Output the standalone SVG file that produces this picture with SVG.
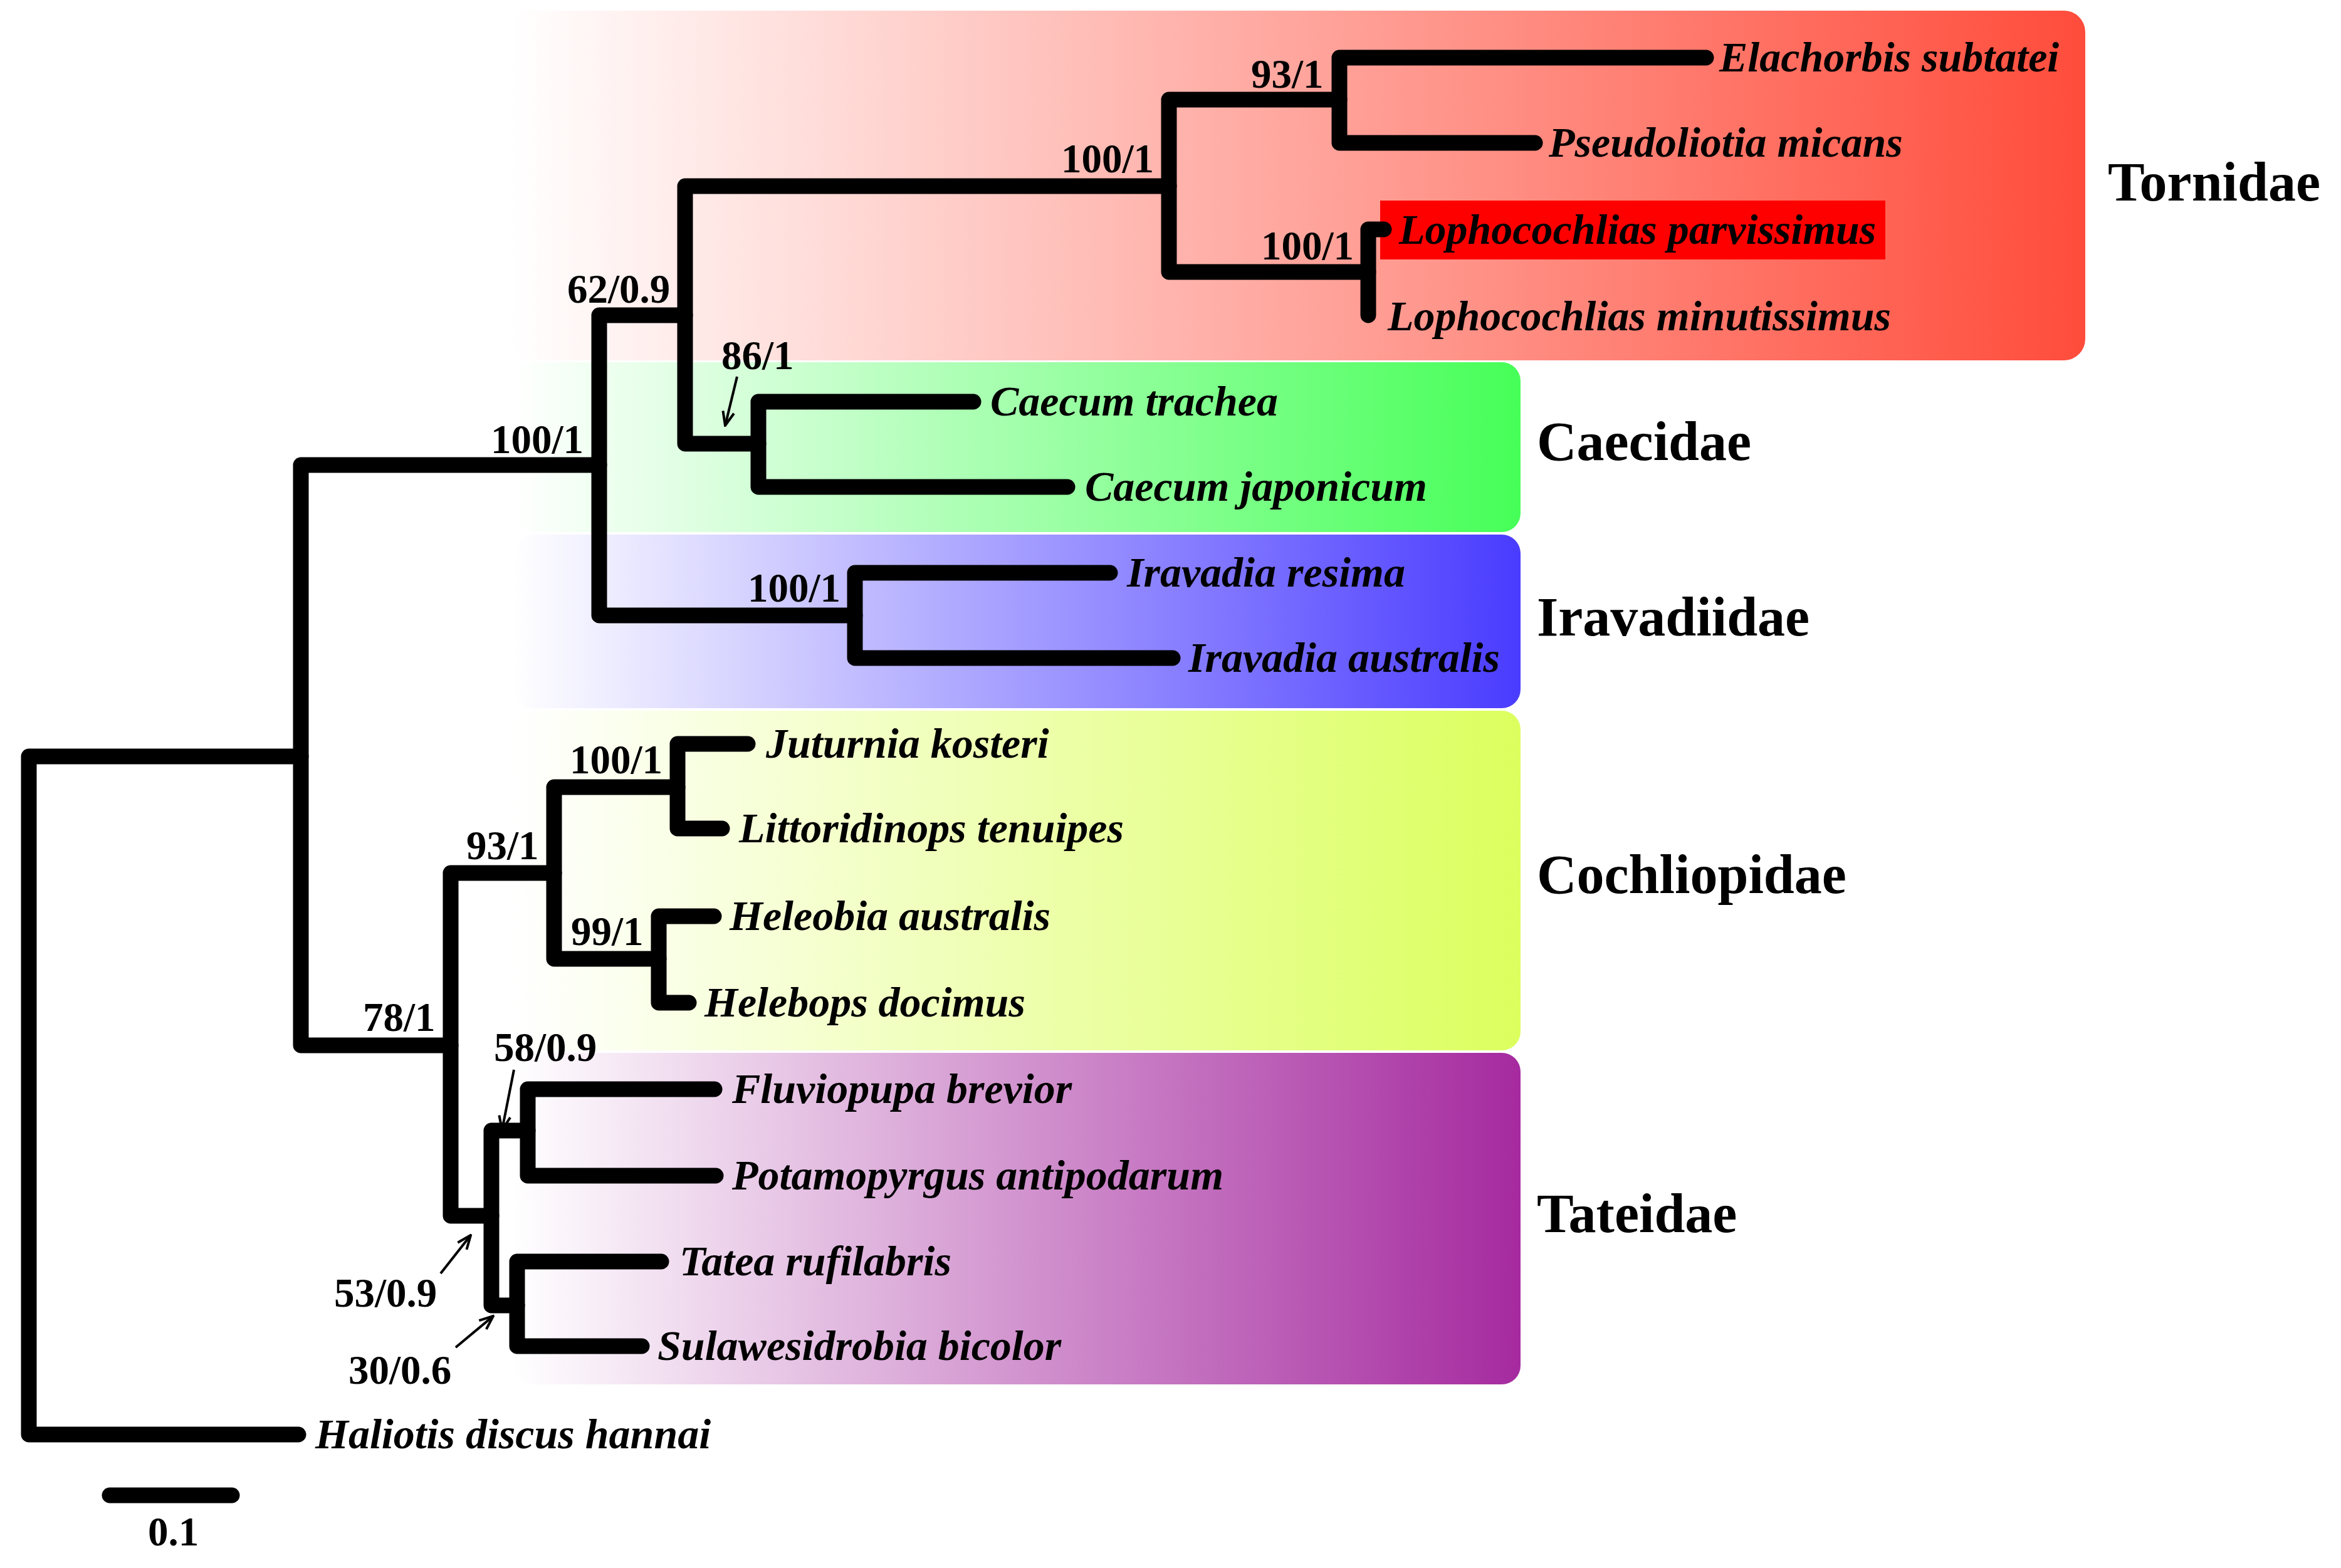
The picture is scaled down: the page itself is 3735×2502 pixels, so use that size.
<svg xmlns="http://www.w3.org/2000/svg" width="3735" height="2502" viewBox="0 0 3735 2502">
<defs>
<linearGradient id="gTor" gradientUnits="userSpaceOnUse" x1="815" y1="0" x2="3327" y2="0"><stop offset="0" stop-color="#FFFFFF"/><stop offset="1" stop-color="#FF4C3B"/></linearGradient>
<linearGradient id="gCae" gradientUnits="userSpaceOnUse" x1="820" y1="0" x2="2426" y2="0"><stop offset="0" stop-color="#FFFFFF"/><stop offset="1" stop-color="#46FF58"/></linearGradient>
<linearGradient id="gIra" gradientUnits="userSpaceOnUse" x1="820" y1="0" x2="2426" y2="0"><stop offset="0" stop-color="#FFFFFF"/><stop offset="1" stop-color="#4A3CFF"/></linearGradient>
<linearGradient id="gCoc" gradientUnits="userSpaceOnUse" x1="820" y1="0" x2="2426" y2="0"><stop offset="0" stop-color="#FFFFFF"/><stop offset="1" stop-color="#DCFF5E"/></linearGradient>
<linearGradient id="gTat" gradientUnits="userSpaceOnUse" x1="820" y1="0" x2="2426" y2="0"><stop offset="0" stop-color="#FFFFFF"/><stop offset="1" stop-color="#A52A9F"/></linearGradient>
<marker id="ah" viewBox="0 0 26 22" refX="24" refY="11" markerWidth="26" markerHeight="22" markerUnits="userSpaceOnUse" orient="auto"><path d="M2,2 L24,11 L2,20" fill="none" stroke="#000" stroke-width="4"/></marker>
</defs>
<style>
.br{fill:none;stroke:#000;stroke-width:25;stroke-linecap:round;stroke-linejoin:round}
.tx{font-family:"Liberation Serif","Times New Roman",serif;font-weight:bold;font-style:italic;font-size:68px;fill:#000}
.sp{font-family:"Liberation Serif","Times New Roman",serif;font-weight:bold;font-size:65px;fill:#000}
.fam{font-family:"Liberation Serif","Times New Roman",serif;font-weight:bold;font-size:88px;fill:#000}
.ar{fill:none;stroke:#000;stroke-width:4;marker-end:url(#ah)}
</style>
<rect width="3735" height="2502" fill="#FFFFFF"/>
<g id="clades">
<g id="Tornidae"><rect x="815" y="17" width="2512" height="558" rx="34" fill="url(#gTor)"/><text class="fam" x="3363" y="320">Tornidae</text></g>
<g id="Caecidae"><rect x="820" y="578" width="1606" height="271" rx="30" fill="url(#gCae)"/><text class="fam" x="2452" y="734">Caecidae</text></g>
<g id="Iravadiidae"><rect x="820" y="853" width="1606" height="277" rx="30" fill="url(#gIra)"/><text class="fam" x="2452" y="1014">Iravadiidae</text></g>
<g id="Cochliopidae"><rect x="820" y="1134" width="1606" height="542" rx="30" fill="url(#gCoc)"/><text class="fam" x="2452" y="1425">Cochliopidae</text></g>
<g id="Tateidae"><rect x="820" y="1680" width="1606" height="529" rx="30" fill="url(#gTat)"/><text class="fam" x="2452" y="1966">Tateidae</text></g>
</g>
<rect id="highlight" x="2202" y="320" width="806" height="94" fill="#FF0000"/>
<g id="connectors">
<path class="br" d="M480,1207 H46 V2289 H476"/>
<path class="br" d="M956,742 H480 V1668 H719"/>
<path class="br" d="M1093,503 H956 V982 H1364"/>
<path class="br" d="M1865,297 H1093 V708 H1210"/>
<path class="br" d="M2137,159 H1865 V434 H2183"/>
<path class="br" d="M2722,92 H2137 V228 H2449"/>
<path class="br" d="M2208,366 H2183 V503"/>
<path class="br" d="M1553,641 H1210 V777 H1703"/>
<path class="br" d="M1771,914 H1364 V1050 H1871"/>
<path class="br" d="M884,1393 H719 V1940 H784"/>
<path class="br" d="M1081,1256 H884 V1530 H1051"/>
<path class="br" d="M1193,1187 H1081 V1322 H1152"/>
<path class="br" d="M1139,1462 H1051 V1600 H1099"/>
<path class="br" d="M842,1804 H784 V2083 H825"/>
<path class="br" d="M1140,1738 H842 V1876 H1142"/>
<path class="br" d="M1055,2013 H825 V2148 H1024"/>
<path class="br" d="M175,2386 H370"/>
<path class="ar" d="M1176,601 L1157,679"/>
<path class="ar" d="M820,1707 L801,1803"/>
<path class="ar" d="M703,2032 L751,1971"/>
<path class="ar" d="M727,2150 L787,2100"/>
</g>
<g id="support">
<text class="sp" x="783" y="723">100/1</text>
<text class="sp" x="905" y="483">62/0.9</text>
<text class="sp" x="1693" y="275">100/1</text>
<text class="sp" x="1151" y="589">86/1</text>
<text class="sp" x="1996" y="140">93/1</text>
<text class="sp" x="2012" y="414">100/1</text>
<text class="sp" x="1193" y="960">100/1</text>
<text class="sp" x="579" y="1645">78/1</text>
<text class="sp" x="744" y="1371">93/1</text>
<text class="sp" x="909" y="1234">100/1</text>
<text class="sp" x="911" y="1508">99/1</text>
<text class="sp" x="788" y="1693">58/0.9</text>
<text class="sp" x="533" y="2085">53/0.9</text>
<text class="sp" x="556" y="2208">30/0.6</text>
<text class="sp" x="236" y="2466">0.1</text>
</g>
<g id="taxa">
<g id="t1"><text class="tx" x="2743" y="114">Elachorbis subtatei</text></g>
<g id="t2"><text class="tx" x="2471" y="250">Pseudoliotia micans</text></g>
<g id="t3"><text class="tx" x="2232" y="389">Lophocochlias parvissimus</text></g>
<g id="t4"><text class="tx" x="2214" y="527">Lophocochlias minutissimus</text></g>
<g id="t5"><text class="tx" x="1580" y="663">Caecum trachea</text></g>
<g id="t6"><text class="tx" x="1731" y="799">Caecum japonicum</text></g>
<g id="t7"><text class="tx" x="1798" y="936">Iravadia resima</text></g>
<g id="t8"><text class="tx" x="1896" y="1072">Iravadia australis</text></g>
<g id="t9"><text class="tx" x="1222" y="1209">Juturnia kosteri</text></g>
<g id="t10"><text class="tx" x="1179" y="1344">Littoridinops tenuipes</text></g>
<g id="t11"><text class="tx" x="1164" y="1484">Heleobia australis</text></g>
<g id="t12"><text class="tx" x="1124" y="1622">Helebops docimus</text></g>
<g id="t13"><text class="tx" x="1168" y="1760">Fluviopupa brevior</text></g>
<g id="t14"><text class="tx" x="1168" y="1898">Potamopyrgus antipodarum</text></g>
<g id="t15"><text class="tx" x="1084" y="2035">Tatea rufilabris</text></g>
<g id="t16"><text class="tx" x="1049" y="2170">Sulawesidrobia bicolor</text></g>
<g id="t17"><text class="tx" x="503" y="2311">Haliotis discus hannai</text></g>
</g>
</svg>
